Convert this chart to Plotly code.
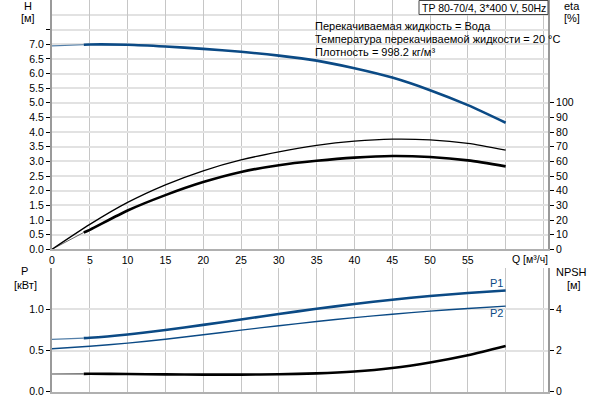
import plotly.graph_objects as go

# ---------------- data ----------------
q = [0, 5, 10, 15, 20, 25, 30, 35, 40, 45, 50, 55, 60]
h = [6.94, 6.99, 6.98, 6.92, 6.84, 6.74, 6.61, 6.44, 6.18, 5.86, 5.43, 4.92, 4.32]
eta_pump = [0, 17.0, 32.0, 44.0, 53.6, 61.0, 66.5, 70.9, 73.8, 75.2, 74.7, 72.3, 67.7]
q_tot = [4.2, 5, 10, 15, 20, 25, 30, 35, 40, 45, 50, 55, 60]
eta_tot = [11.5, 13.3, 26.5, 37.0, 45.9, 52.8, 57.4, 60.4, 62.6, 63.7, 63.0, 60.7, 56.6]
p1 = [0.635, 0.655, 0.695, 0.750, 0.812, 0.878, 0.945, 1.008, 1.066, 1.118, 1.163, 1.200, 1.231]
p2 = [0.522, 0.552, 0.590, 0.638, 0.692, 0.748, 0.802, 0.853, 0.900, 0.942, 0.980, 1.012, 1.040]
npsh = [0.86, 0.87, 0.86, 0.84, 0.83, 0.83, 0.85, 0.89, 0.98, 1.15, 1.42, 1.77, 2.22]

q_ticks = [0, 5, 10, 15, 20, 25, 30, 35, 40, 45, 50, 55, 60, 65]
q_labels = ["0", "5", "10", "15", "20", "25", "30", "35", "40", "45", "50", "55", "", ""]
h_ticks = [0, 0.5, 1, 1.5, 2, 2.5, 3, 3.5, 4, 4.5, 5, 5.5, 6, 6.5, 7, 7.5]
h_labels = ["0.0", "0.5", "1.0", "1.5", "2.0", "2.5", "3.0", "3.5", "4.0", "4.5",
            "5.0", "5.5", "6.0", "6.5", "7.0", ""]
eta_ticks = [0, 10, 20, 30, 40, 50, 60, 70, 80, 90, 100]
p_ticks = [0, 0.5, 1.0]
p_labels = ["0.0", "0.5", "1.0"]
npsh_ticks = [0, 2, 4]

info_lines = ["Перекачиваемая жидкость = Вода",
              "Температура перекачиваемой жидкости = 20 °C",
              "Плотность = 998.2 кг/м³"]
title_text = "TP 80-70/4, 3*400 V, 50Hz"

BLUE = "#0b4a85"
FONT = "Liberation Sans"
W, H = 600, 400
L, R = 52, 52


def px(x):
    return (x - L) / (W - L - R)


def py(y):
    return 1 - y / H


def interp(xs, ys, x):
    for i in range(len(xs) - 1):
        if xs[i] <= x <= xs[i + 1]:
            t = (x - xs[i]) / (xs[i + 1] - xs[i])
            return ys[i] + t * (ys[i + 1] - ys[i])
    return ys[-1]


QS = 4.2  # start of the measured (thick) part
SM = 0.7

fig = go.Figure()


def split_curve(xs, ys, color, wthin, wthick, xa, ya):
    ys_start = interp(xs, ys, QS)
    thin_x = [x for x in xs if x < QS] + [QS]
    thin_y = [y for x, y in zip(xs, ys) if x < QS] + [ys_start]
    thick_x = [QS] + [x for x in xs if x > QS]
    thick_y = [ys_start] + [y for x, y in zip(xs, ys) if x > QS]
    fig.add_trace(go.Scatter(x=thin_x, y=thin_y, mode="lines", xaxis=xa, yaxis=ya,
                             line=dict(color=color, width=wthin),
                             opacity=0.7, showlegend=False, hoverinfo="skip"))
    fig.add_trace(go.Scatter(x=thick_x, y=thick_y, mode="lines", xaxis=xa, yaxis=ya,
                             line=dict(color=color, width=wthick, shape="spline", smoothing=SM),
                             showlegend=False, hoverinfo="skip"))


# H curve
split_curve(q, h, BLUE, 1.2, 2.6, "x", "y")
# pump efficiency (thin)
fig.add_trace(go.Scatter(x=q, y=eta_pump, mode="lines", xaxis="x", yaxis="y2",
                         line=dict(color="#000", width=1.3, shape="spline", smoothing=SM),
                         showlegend=False, hoverinfo="skip"))
# total efficiency (thick) with thin extension from origin
fig.add_trace(go.Scatter(x=[0, q_tot[0]], y=[0, eta_tot[0]], mode="lines", xaxis="x", yaxis="y2",
                         line=dict(color="#000", width=1), opacity=0.6,
                         showlegend=False, hoverinfo="skip"))
fig.add_trace(go.Scatter(x=q_tot, y=eta_tot, mode="lines", xaxis="x", yaxis="y2",
                         line=dict(color="#000", width=2.6, shape="spline", smoothing=SM),
                         showlegend=False, hoverinfo="skip"))
# P1, P2
split_curve(q, p1, BLUE, 1.2, 2.6, "x2", "y3")
fig.add_trace(go.Scatter(x=q, y=p2, mode="lines", xaxis="x2", yaxis="y3",
                         line=dict(color=BLUE, width=1.4, shape="spline", smoothing=SM),
                         showlegend=False, hoverinfo="skip"))
# NPSH
split_curve(q, npsh, "#000", 1.2, 2.6, "x2", "y4")

grid_v = "#c6c6c6"
grid_h = "#e2e2e2"
axis_c = "#9a9a9a"
tickfont = dict(family=FONT, size=10.5, color="#000")

dom_top = [py(249.3), 1]
dom_bot = [py(391.7), py(268.3)]
xr = [0, 65.6]
hmax = 249.3 / 29.3

fig.update_layout(
    width=W, height=H,
    margin=dict(l=L, r=R, t=0, b=0, autoexpand=False),
    paper_bgcolor="white", plot_bgcolor="white",
    font=dict(family=FONT, size=11, color="#000"),
    xaxis=dict(domain=[0, 1], range=xr, anchor="y", tickvals=q_ticks, ticktext=q_labels,
               showgrid=True, gridcolor=grid_v, gridwidth=1, zeroline=False,
               showline=True, linecolor="#b0b0b0", linewidth=2, ticks="",
               tickfont=tickfont, automargin=False),
    yaxis=dict(domain=dom_top, range=[0, hmax], tickvals=h_ticks, ticktext=h_labels,
               showgrid=True, gridcolor=grid_h, gridwidth=2, zeroline=False,
               showline=True, linecolor=axis_c, linewidth=2,
               ticks="outside", ticklen=4, tickcolor="#000", tickwidth=1,
               tickfont=tickfont, automargin=False),
    yaxis2=dict(overlaying="y", side="right", range=[0, hmax * 20], tickvals=eta_ticks,
                showgrid=False, zeroline=False, showline=True, linecolor=axis_c, linewidth=2,
                ticks="outside", ticklen=4, tickcolor="#000", tickwidth=1,
                tickfont=tickfont, automargin=False),
    xaxis2=dict(domain=[0, 1], range=xr, anchor="y3", tickvals=q_ticks, showticklabels=False,
                showgrid=True, gridcolor=grid_v, gridwidth=1, zeroline=False,
                showline=True, linecolor="#b0b0b0", linewidth=2, ticks="", automargin=False),
    yaxis3=dict(domain=dom_bot, range=[0, 1.5], tickvals=p_ticks, ticktext=p_labels,
                anchor="x2", showgrid=True, gridcolor=grid_h, gridwidth=2, zeroline=False,
                showline=True, linecolor=axis_c, linewidth=2,
                ticks="outside", ticklen=4, tickcolor="#000", tickwidth=1,
                tickfont=tickfont, automargin=False),
    yaxis4=dict(overlaying="y3", side="right", anchor="x2", range=[0, 6], tickvals=npsh_ticks,
                showgrid=False, zeroline=False, showline=True, linecolor=axis_c, linewidth=2,
                ticks="outside", ticklen=4, tickcolor="#000", tickwidth=1,
                tickfont=tickfont, automargin=False),
)

shapes = []
# extra gridline at H = 8.0
shapes.append(dict(type="line", xref="x", yref="y", x0=0, x1=xr[1], y0=8.0, y1=8.0,
                   line=dict(color=grid_h, width=2), layer="below"))
# white box behind info text
shapes.append(dict(type="rect", xref="paper", yref="paper", x0=px(309), x1=px(547),
                   y0=py(57), y1=py(18), fillcolor="white", line=dict(width=0),
                   layer="between"))
# title box
shapes.append(dict(type="rect", xref="paper", yref="paper", x0=px(419), x1=px(548),
                   y0=py(14.5), y1=py(0.5), fillcolor="white",
                   line=dict(color="#444", width=1), layer="above"))
fig.update_layout(shapes=shapes)

ann = []


def text(x, y, s, anchor="center", color="#000", size=11):
    ann.append(dict(x=px(x), y=py(y), xref="paper", yref="paper", text=s, showarrow=False,
                    xanchor=anchor, yanchor="middle", font=dict(family=FONT, size=size, color=color)))


text(28, 6, "H")
text(28, 18, "[м]")
text(572, 6, "eta")
text(572, 18, "[%]")
text(24, 271, "P")
text(25, 285, "[кВт]")
text(571, 272, "NPSH")
text(574, 285, "[м]")
text(510, 259, "Q [м³/ч]", anchor="left", size=10.5)
text(484, 7.5, title_text, size=10.5)
for i, s in enumerate(info_lines):
    text(313, 26 + i * 12.8, s, anchor="left")
text(496, 283, "P1", color=BLUE)
text(496, 313, "P2", color=BLUE)
fig.update_layout(annotations=ann)

fig.write_html("out.html", config={"displayModeBar": False},
               post_script="document.body.style.margin='0';document.body.style.padding='0';")
